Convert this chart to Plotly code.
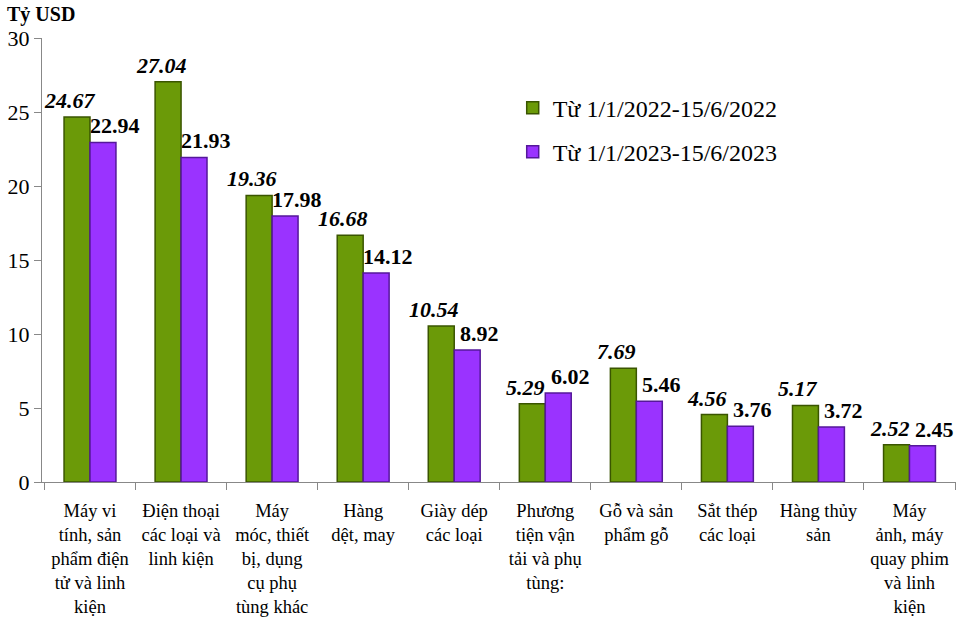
import plotly.graph_objects as go

categories = [
    "Máy vi<br>tính, sản<br>phẩm điện<br>tử và linh<br>kiện",
    "Điện thoại<br>các loại và<br>linh kiện",
    "Máy<br>móc, thiết<br>bị, dụng<br>cụ phụ<br>tùng khác",
    "Hàng<br>dệt, may",
    "Giày dép<br>các loại",
    "Phương<br>tiện vận<br>tải và phụ<br>tùng:",
    "Gỗ và sản<br>phẩm gỗ",
    "Sắt thép<br>các loại",
    "Hàng thủy<br>sản",
    "Máy<br>ảnh, máy<br>quay phim<br>và linh<br>kiện",
]
values_2022 = [24.67, 27.04, 19.36, 16.68, 10.54, 5.29, 7.69, 4.56, 5.17, 2.52]
values_2023 = [22.94, 21.93, 17.98, 14.12, 8.92, 6.02, 5.46, 3.76, 3.72, 2.45]
name_2022 = "Từ 1/1/2022-15/6/2022"
name_2023 = "Từ 1/1/2023-15/6/2023"
y_ticks = [0, 5, 10, 15, 20, 25, 30]

FONT = "Liberation Serif, Times New Roman, serif"
GREEN = "#6b9a08"
GREEN_EDGE = "#3a5500"
PURPLE = "#9a33ff"
PURPLE_EDGE = "#55189a"

fig = go.Figure()
fig.add_trace(go.Bar(
    x=categories, y=values_2022, name=name_2022,
    marker=dict(color=GREEN, line=dict(color=GREEN_EDGE, width=1.5)),
    legend="legend",
))
fig.add_trace(go.Bar(
    x=categories, y=values_2023, name=name_2023,
    marker=dict(color=PURPLE, line=dict(color=PURPLE_EDGE, width=1.5)),
    legend="legend2",
))

annotations = []
for c, v in zip(categories, values_2022):
    annotations.append(dict(
        x=c, y=v, text=f"<b><i>{v:.2f}</i></b>", showarrow=False,
        xshift=-20, yshift=2, yanchor="bottom",
        font=dict(family=FONT, size=22, color="black"),
    ))
for c, v in zip(categories, values_2023):
    annotations.append(dict(
        x=c, y=v, text=f"<b>{v:.2f}</b>", showarrow=False,
        xshift=25, yshift=2, yanchor="bottom",
        font=dict(family=FONT, size=22, color="black"),
    ))
annotations.append(dict(
    xref="paper", yref="paper", x=-0.041, y=1.083, xanchor="left", yanchor="top",
    text="<b>Tỷ USD</b>", showarrow=False,
    font=dict(family=FONT, size=20, color="black"),
))

fig.update_layout(
    width=958, height=619,
    margin=dict(l=42, r=2, t=38, b=137, autoexpand=False),
    paper_bgcolor="white", plot_bgcolor="white",
    barmode="group", bargap=0.43, bargroupgap=0,
    font=dict(family=FONT, size=18, color="black"),
    showlegend=True,
    legend=dict(x=0.515, y=0.842, xanchor="left", yanchor="middle",
                font=dict(family=FONT, size=24), bgcolor="rgba(0,0,0,0)"),
    legend2=dict(x=0.515, y=0.743, xanchor="left", yanchor="middle",
                 font=dict(family=FONT, size=24), bgcolor="rgba(0,0,0,0)"),
    annotations=annotations,
)
fig.update_xaxes(
    type="category", showline=True, linecolor="#888888", linewidth=1,
    ticks="outside", tickson="boundaries", ticklen=7, tickcolor="#888888",
    tickfont=dict(family=FONT, size=18.5), tickangle=0, showgrid=False,
    ticklabelstandoff=12, automargin=False,
)
fig.update_yaxes(
    range=[0, 30], tickvals=y_ticks, showline=True, linecolor="#888888", linewidth=1,
    ticks="outside", ticklen=7, tickcolor="#888888", showgrid=False, zeroline=False,
    tickfont=dict(family=FONT, size=22), automargin=False,
)

fig.write_html("out.html")
